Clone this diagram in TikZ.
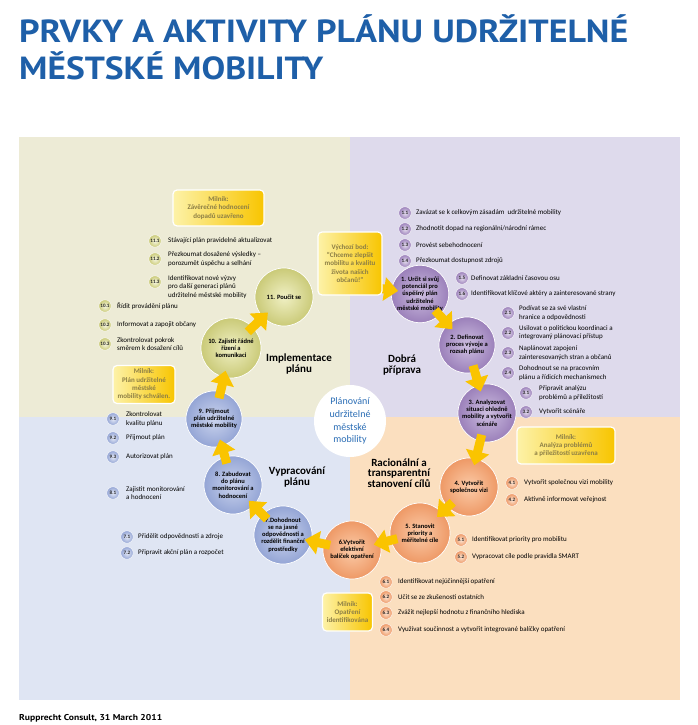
\documentclass[tikz,border=0pt]{standalone}
\usepackage{fontspec}
\setmainfont{Carlito}
\newfontfamily\titlefont{PT Sans}
\usetikzlibrary{arrows.meta}
\definecolor{bgTL}{HTML}{EDEBD6}
\definecolor{bgTR}{HTML}{DEDAEC}
\definecolor{bgBL}{HTML}{DFE5F3}
\definecolor{bgBR}{HTML}{FBDFBF}
\definecolor{titleblue}{HTML}{1E5FA8}
\definecolor{centerblue}{HTML}{2A6DB5}
\definecolor{arrowyel}{HTML}{FAC400}
\definecolor{miletext}{HTML}{8C7E45}
\definecolor{pIn}{HTML}{CDBEE0}\definecolor{pOut}{HTML}{9B80BA}
\definecolor{oIn}{HTML}{FBCBA8}\definecolor{oOut}{HTML}{EE9966}
\definecolor{bIn}{HTML}{CBD4EE}\definecolor{bOut}{HTML}{94A5D5}
\definecolor{yIn}{HTML}{F0F0C4}\definecolor{yOut}{HTML}{CACA78}
\definecolor{mLeft}{HTML}{FDF2A8}\definecolor{mRight}{HTML}{F8C500}
\newcommand{\litem}[7]{\node[#1] (n#2) at (#4,#5) {#3}; \node[itm] (t#2) at (#6,#5) {#7};}
\begin{document}
\begin{tikzpicture}[x=1pt,y=-1pt,
 big/.style={circle, inner sep=0pt, draw=white, line width=0.7pt, align=center, font=\bfseries\fontsize{6.5}{7.2}\selectfont, text=black},
 bigP/.style={big, inner color=pIn, outer color=pOut},
 bigO/.style={big, inner color=oIn, outer color=oOut},
 bigB/.style={big, inner color=bIn, outer color=bOut},
 bigY/.style={big, inner color=yIn, outer color=yOut},
 num/.style={circle, minimum size=12.5pt, inner sep=0pt, draw=white, line width=0.4pt, font=\bfseries\fontsize{5.1}{5.5}\selectfont, text=black!85},
 numP/.style={num, inner color=pIn!50!white, outer color=pOut},
 numO/.style={num, inner color=oIn!50!white, outer color=oOut},
 numB/.style={num, inner color=bIn!50!white, outer color=bOut},
 numY/.style={num, inner color=yIn!50!white, outer color=yOut},
 itm/.style={anchor=west, inner sep=0pt, align=left, font=\fontsize{7}{8.3}\selectfont, text=black},
 mile/.style={rounded corners=4pt, draw=white, line width=1.2pt, left color=mLeft, right color=mRight, align=center, inner sep=1pt, font=\bfseries\fontsize{7}{8.3}\selectfont, text=miletext},
 stage/.style={align=center, inner sep=0pt, font=\bfseries\fontsize{11}{10.5}\selectfont, text=black},
 bigarrow/.style={draw=arrowyel, line width=9pt, -{Triangle[width=23pt,length=14pt]}, shorten <=-7pt, shorten >=-7pt}
]
\useasboundingbox (0,0) rectangle (698,725);
\fill[white] (0,0) rectangle (698,725);
% title
\node[anchor=base west, inner sep=0pt, text=titleblue, font=\titlefont\bfseries\fontsize{32}{32}\selectfont] (title1) at (19,43) {\resizebox{609pt}{\height}{PRVKY A AKTIVITY PLÁNU UDRŽITELNÉ}};
\node[anchor=base west, inner sep=0pt, text=titleblue, font=\titlefont\bfseries\fontsize{32}{32}\selectfont] (title2) at (19,79) {\resizebox{304pt}{\height}{MĚSTSKÉ MOBILITY}};
% backgrounds
\fill[bgTL] (19,137) rectangle (350,417);
\fill[bgTR] (350,137) rectangle (680,417);
\fill[bgBL] (19,417) rectangle (350,700);
\fill[bgBR] (350,417) rectangle (680,700);
% centre
\node[circle, fill=white, minimum size=72pt, inner sep=0pt, align=center, text=centerblue, font=\fontsize{10}{12.7}\selectfont] (centre) at (350,421) {Plánování\\udržitelné\\městské\\mobility};
% big circles
\node[bigP, minimum size=56pt] (c1) at (420,294) {1. Určit si svůj\\potenciál pro\\úspěšný plán\\udržitelné\\městské mobility};
\node[bigP, minimum size=56pt] (c2) at (467,345) {2. Definovat\\proces vývoje a\\rozsah plánu};
\node[bigP, minimum size=58pt] (c3) at (487,413) {3. Analyzovat\\situaci ohledně\\mobility a vytvořit\\scénáře};
\node[bigO, minimum size=58pt] (c4) at (469,487) {4. Vytvořit\\společnou vizi};
\node[bigO, minimum size=60pt] (c5) at (420,533) {5. Stanovit\\priority a\\měřitelné cíle};
\node[bigO, minimum size=58pt] (c6) at (352,550) {6.Vytvořit\\efektivní\\balíček opatření};
\node[bigB, minimum size=58pt] (c7) at (283,535) {7.Dohodnout\\se na jasné\\odpovědnosti a\\rozdělit finanční\\prostředky};
\node[bigB, minimum size=58pt] (c8) at (233,485) {8. Zabudovat\\do plánu\\monitorování a\\hodnocení};
\node[bigB, minimum size=56pt] (c9) at (214,419) {9. Přijmout\\plán udržitelné\\městské mobility};
\node[bigY, minimum size=60pt] (c10) at (231,348) {10. Zajistit řádné\\řízení a\\komunikaci};
\node[bigY, minimum size=58pt] (c11) at (284,297) {11. Poučit se};
% arrows
\coordinate (vs) at (370,287);
\draw[bigarrow] (vs) -- (c1);
\draw[bigarrow] (c1) -- (c2);
\draw[bigarrow] (c2) -- (c3);
\draw[bigarrow] (c3) -- (c4);
\draw[bigarrow] (c4) -- (c5);
\draw[bigarrow] (c5) -- (c6);
\draw[bigarrow] (c6) -- (c7);
\draw[bigarrow] (c7) -- (c8);
\draw[bigarrow] (c8) -- (c9);
\draw[bigarrow] (c9) -- (c10);
\draw[bigarrow] (c10) -- (c11);
% milestones
\node[mile, minimum width=91pt, minimum height=36pt] (m1) at (218.5,208) {Milník:\\Závěrečné hodnocení\\dopadů uzavřeno};
\node[mile, minimum width=64pt, minimum height=63pt] (m0) at (350,263.5) {Výchozí bod:\\“Chceme zlepšit\\mobilitu a kvalitu\\života našich\\občanů!”};
\node[mile, minimum width=62pt, minimum height=38pt] (m2) at (144,384.5) {Milník:\\Plán udržitelné\\městské\\mobility schválen.};
\node[mile, minimum width=98pt, minimum height=37pt] (m3) at (566,445.5) {Milník:\\Analýza problémů\\a příležitostí uzavřena};
\node[mile, minimum width=50pt, minimum height=38pt] (m4) at (347.5,612) {Milník:\\Opatření\\identifikována};
% stage labels
\node[stage] (s1) at (299,364) {Implementace\\plánu};
\node[stage] (s2) at (402,365) {Dobrá\\příprava};
\node[stage] (s3) at (297,477) {Vypracování\\plánu};
\node[stage] (s4) at (399,473) {Racionální a\\transparentní\\stanovení cílů};
% items purple
\litem{numP}{a11}{1.1}{405}{213}{416}{Zavázat se k celkovým zásadám\ \ udržitelné mobility}
\litem{numP}{a12}{1.2}{405}{229}{416}{Zhodnotit dopad na regionální/národní rámec}
\litem{numP}{a13}{1.3}{405}{245}{416}{Provést sebehodnocení}
\litem{numP}{a14}{1.4}{405}{261}{416}{Přezkoumat dostupnost zdrojů}
\litem{numP}{a15}{1.5}{462}{278}{471}{Definovat základní časovou osu}
\litem{numP}{a16}{1.6}{462}{294}{471}{Identifikovat klíčové aktéry a zainteresované strany}
\litem{numP}{a21}{2.1}{508}{313}{519}{Podívat se za své vlastní\\hranice a odpovědnosti}
\litem{numP}{a22}{2.2}{508}{333}{519}{Usilovat o politickou koordinaci a\\integrovaný plánovací přístup}
\litem{numP}{a23}{2.3}{508}{353}{519}{Naplánovat zapojení\\zainteresovaných stran a občanů}
\litem{numP}{a24}{2.4}{508}{373}{519}{Dohodnout se na pracovním\\plánu a řídicích mechanismech}
\litem{numP}{a31}{3.1}{526}{393}{539}{Připravit analýzu\\problémů a příležitostí}
\litem{numP}{a32}{3.2}{526}{412}{539}{Vytvořit scénáře}
% items orange
\litem{numO}{a41}{4.1}{512}{483}{524}{Vytvořit společnou vizi mobility}
\litem{numO}{a42}{4.2}{512}{500}{524}{Aktivně informovat veřejnost}
\litem{numO}{a51}{5.1}{461}{540}{472}{Identifikovat priority pro mobilitu}
\litem{numO}{a52}{5.2}{461}{557}{472}{Vypracovat cíle podle pravidla SMART}
\litem{numO}{a61}{6.1}{386}{582}{398}{Identifikovat nejúčinnější opatření}
\litem{numO}{a62}{6.2}{386}{597}{398}{Učit se ze zkušeností ostatních}
\litem{numO}{a63}{6.3}{386}{613}{398}{Zvážit nejlepší hodnotu z finančního hlediska}
\litem{numO}{a64}{6.4}{386}{630}{398}{Využívat součinnost a vytvořit integrované balíčky opatření}
% items blue
\litem{numB}{a91}{9.1}{113}{419}{126}{Zkontrolovat\\kvalitu plánu}
\litem{numB}{a92}{9.2}{113}{438}{126}{Přijmout plán}
\litem{numB}{a93}{9.3}{113}{457}{126}{Autorizovat plán}
\litem{numB}{a81}{8.1}{113}{493}{126}{Zajistit monitorování\\a hodnocení}
\litem{numB}{a71}{7.1}{127}{537}{138}{Přidělit odpovědnosti a zdroje}
\litem{numB}{a72}{7.2}{127}{553}{138}{Připravit akční plán a rozpočet}
% items olive
\litem{numY}{a111}{11.1}{155}{241}{168}{Stávající plán pravidelně aktualizovat}
\litem{numY}{a112}{11.2}{155}{259}{168}{Přezkoumat dosažené výsledky –\\porozumět úspěchu a selhání}
\node[numY] (na113) at (155,282) {11.3};
\node[itm] (ta113) at (168,287) {Identifikovat nové výzvy\\pro další generaci plánů\\udržitelné městské mobility};
\litem{numY}{a101}{10.1}{105}{306}{117}{Řídit provádění plánu}
\litem{numY}{a102}{10.2}{105}{325}{117}{Informovat a zapojit občany}
\litem{numY}{a103}{10.3}{105}{344}{117}{Zkontrolovat pokrok\\směrem k dosažení cílů}
% footer
\node[anchor=base west, inner sep=0pt, font=\titlefont\bfseries\fontsize{8.5}{9}\selectfont] (foot) at (19,720) {\resizebox{143pt}{\height}{Rupprecht Consult, 31 March 2011}};
\end{tikzpicture}
\end{document}
